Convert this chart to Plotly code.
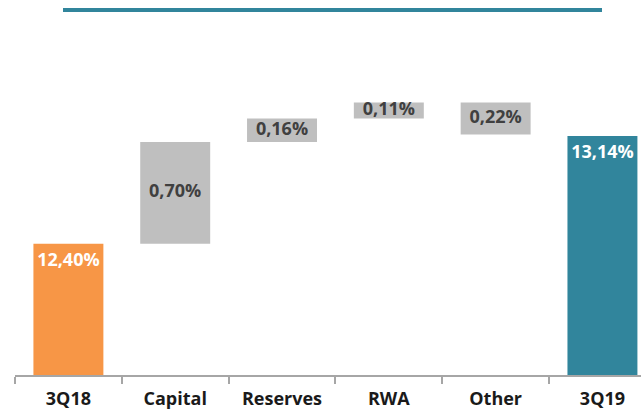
import plotly.graph_objects as go

categories = ["3Q18", "Capital", "Reserves", "RWA", "Other", "3Q19"]
values = [12.40, 0.70, 0.16, 0.11, -0.22, 13.14]
labels = ["12,40%", "0,70%", "0,16%", "0,11%", "0,22%", "13,14%"]
measures = ["absolute", "relative", "relative", "relative", "relative", "total"]

ORANGE = "#F79646"
TEAL = "#31859C"
GRAY = "#BFBFBF"
FONT = "Open Sans"

# compute bases for waterfall-like bars
bases = []
running = 0.0
for v, m in zip(values, measures):
    if m == "relative":
        bases.append(running)
        running += v
    else:
        bases.append(0)
        running = v

colors = [ORANGE if m == "absolute" else TEAL if m == "total" else GRAY for m in measures]

fig = go.Figure()

# end bars (with labels inside top)
end_idx = [i for i, m in enumerate(measures) if m != "relative"]
fig.add_trace(go.Bar(
    x=[categories[i] for i in end_idx],
    y=[values[i] for i in end_idx],
    base=[bases[i] for i in end_idx],
    marker=dict(color=[colors[i] for i in end_idx], line=dict(width=0)),
    width=0.655,
    text=[labels[i] for i in end_idx],
    textposition="inside",
    insidetextanchor="end",
    textfont=dict(family=FONT, size=18, color="white", weight="bold"),
    hoverinfo="skip",
))

# delta bars
rel_idx = [i for i, m in enumerate(measures) if m == "relative"]
fig.add_trace(go.Bar(
    x=[categories[i] for i in rel_idx],
    y=[values[i] for i in rel_idx],
    base=[bases[i] for i in rel_idx],
    marker=dict(color=GRAY, line=dict(width=0)),
    width=0.655,
    textposition="none",
    hoverinfo="skip",
))

# delta labels centered in each bar
fig.add_trace(go.Scatter(
    x=[categories[i] for i in rel_idx],
    y=[bases[i] + values[i] / 2 for i in rel_idx],
    mode="text",
    text=[labels[i] for i in rel_idx],
    textposition="middle center",
    textfont=dict(family=FONT, size=18, color="#404040", weight="bold"),
    hoverinfo="skip",
    cliponaxis=False,
))

fig.update_layout(
    width=641, height=411,
    margin=dict(l=15, r=0, t=20, b=36),
    paper_bgcolor="white", plot_bgcolor="white",
    showlegend=False,
    barmode="overlay",
    xaxis=dict(
        type="category", categoryorder="array", categoryarray=categories,
        range=[-0.5, 5.361],
        automargin=False,
        showline=True, linecolor="#A6A6A6", linewidth=1.5,
        ticks="outside", tickson="boundaries", ticklen=7, tickcolor="#A6A6A6", tickwidth=1.5,
        ticklabelstandoff=7,
        tickfont=dict(family=FONT, size=18, color="#1a1a1a", weight="bold"),
        showgrid=False, zeroline=False, fixedrange=True,
    ),
    yaxis=dict(
        range=[11.5, 11.5 + 355 / 145.7],
        visible=False, showgrid=False, zeroline=False, fixedrange=True,
    ),
    shapes=[dict(
        type="line", xref="paper", yref="paper",
        x0=(63 - 15) / 626, x1=(602 - 15) / 626,
        y0=(375 - 10) / 355, y1=(375 - 10) / 355,
        line=dict(color=TEAL, width=4),
    )],
)

fig.write_html("out.html")
